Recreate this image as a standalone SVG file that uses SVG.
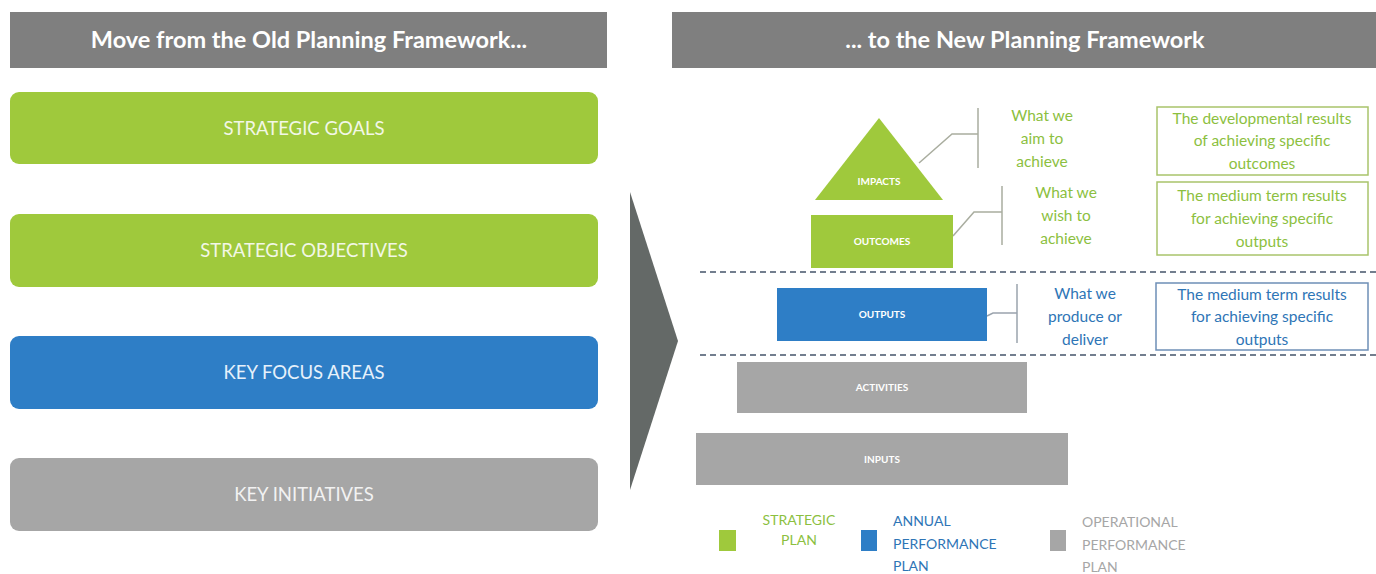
<svg xmlns="http://www.w3.org/2000/svg" width="1376" height="574" viewBox="0 0 1376 574">
<style>
.hdr{fill:#7f7f7f}
.hdrt{font-family:Lato,"Liberation Sans",sans-serif;font-weight:bold;font-size:23.5px;fill:#ffffff;text-anchor:middle}
.lbl{font-family:Lato,"Liberation Sans",sans-serif;font-size:18.5px;fill:#f2f7e6;text-anchor:middle}
.sm{font-family:Lato,"Liberation Sans",sans-serif;font-weight:bold;font-size:10px;fill:#ffffff;text-anchor:middle}
.g{fill:#9fc93c}
.b{fill:#2e7ec6}
.gr{fill:#a6a6a6}
.gt{font-family:Lato,"Liberation Sans",sans-serif;font-size:15.5px;fill:#8cbf3f;text-anchor:middle}
.bt{font-family:Lato,"Liberation Sans",sans-serif;font-size:15.5px;fill:#2e75b6;text-anchor:middle}
.lg{font-family:Lato,"Liberation Sans",sans-serif;font-size:14px}
.conn{fill:none;stroke:#a9ad9f;stroke-width:1.5}
.dash{stroke:#44546a;stroke-width:1.5;stroke-dasharray:6 4}
</style>
<rect width="1376" height="574" fill="#ffffff"/>
<g id="header-left"><rect class="hdr" x="10" y="12" width="597" height="56"/><text class="hdrt" x="309" y="48">Move from the Old Planning Framework...</text></g>
<g id="header-right"><rect class="hdr" x="672" y="12" width="704" height="56"/><text class="hdrt" x="1025" y="48">... to the New Planning Framework</text></g>
<g id="strategic-goals"><rect class="g" x="10" y="92" width="588" height="72" rx="9"/><text class="lbl" x="304" y="135">STRATEGIC GOALS</text></g>
<g id="strategic-objectives"><rect class="g" x="10" y="214" width="588" height="73" rx="9"/><text class="lbl" x="304" y="257">STRATEGIC OBJECTIVES</text></g>
<g id="key-focus-areas"><rect class="b" x="10" y="336" width="588" height="73" rx="9"/><text class="lbl" x="304" y="379" style="fill:#e6f1fb">KEY FOCUS AREAS</text></g>
<g id="key-initiatives"><rect class="gr" x="10" y="458" width="588" height="73" rx="9"/><text class="lbl" x="304" y="501" style="fill:#f2f2f2">KEY INITIATIVES</text></g>
<g id="arrow"><polygon points="630,192 678,341 630,490" fill="#646967"/></g>
<g id="connectors">
<polyline class="conn" points="919,163 952,134 978,134"/>
<line class="conn" x1="978" y1="108" x2="978" y2="168"/>
<polyline class="conn" points="953,236 974,212 1002,212"/>
<line class="conn" x1="1002" y1="186" x2="1002" y2="245"/>
<polyline class="conn" points="987,316 993,313 1017,313" style="stroke:#9aa3ad"/>
<line class="conn" x1="1017" y1="284" x2="1017" y2="343" style="stroke:#9aa3ad"/>
<line class="dash" x1="700" y1="272" x2="1376" y2="272"/>
<line class="dash" x1="700" y1="355" x2="1376" y2="355"/>
</g>
<g id="impacts"><polygon class="g" points="879,118 815,200 943,200"/><text class="sm" x="879" y="185">IMPACTS</text></g>
<g id="outcomes"><rect class="g" x="811" y="215" width="142" height="53"/><text class="sm" x="882" y="245">OUTCOMES</text></g>
<g id="outputs"><rect class="b" x="777" y="288" width="210" height="53"/><text class="sm" x="882" y="318">OUTPUTS</text></g>
<g id="activities"><rect class="gr" x="737" y="362" width="290" height="51"/><text class="sm" x="882" y="391">ACTIVITIES</text></g>
<g id="inputs"><rect class="gr" x="696" y="433" width="372" height="52"/><text class="sm" x="882" y="463">INPUTS</text></g>
<g id="aim-text"><text class="gt" x="1042" y="121">What we</text><text class="gt" x="1042" y="144">aim to</text><text class="gt" x="1042" y="167">achieve</text></g>
<g id="wish-text"><text class="gt" x="1066" y="198">What we</text><text class="gt" x="1066" y="221">wish to</text><text class="gt" x="1066" y="244">achieve</text></g>
<g id="produce-text"><text class="bt" x="1085" y="299">What we</text><text class="bt" x="1085" y="322">produce or</text><text class="bt" x="1085" y="345">deliver</text></g>
<g id="box-impacts"><rect x="1157" y="107" width="211" height="68" fill="none" stroke="#a9c46b" stroke-width="1.5"/><text class="gt" x="1262" y="124">The developmental results</text><text class="gt" x="1262" y="146">of achieving specific</text><text class="gt" x="1262" y="169">outcomes</text></g>
<g id="box-outcomes"><rect x="1157" y="182" width="211" height="73" fill="none" stroke="#a9c46b" stroke-width="1.5"/><text class="gt" x="1262" y="201">The medium term results</text><text class="gt" x="1262" y="224">for achieving specific</text><text class="gt" x="1262" y="247">outputs</text></g>
<g id="box-outputs"><rect x="1156" y="283" width="212" height="67" fill="none" stroke="#6e8fb6" stroke-width="1.5"/><text class="bt" x="1262" y="300">The medium term results</text><text class="bt" x="1262" y="322">for achieving specific</text><text class="bt" x="1262" y="345">outputs</text></g>
<g id="legend-strategic"><rect class="g" x="719" y="530" width="17" height="21"/><text class="lg" x="799" y="525" fill="#8cbf3f" text-anchor="middle">STRATEGIC</text><text class="lg" x="799" y="545" fill="#8cbf3f" text-anchor="middle">PLAN</text></g>
<g id="legend-annual"><rect class="b" x="861" y="530" width="16" height="21"/><text class="lg" x="893" y="526" fill="#2e75b6">ANNUAL</text><text class="lg" x="893" y="549" fill="#2e75b6">PERFORMANCE</text><text class="lg" x="893" y="571" fill="#2e75b6">PLAN</text></g>
<g id="legend-operational"><rect class="gr" x="1050" y="530" width="16" height="21"/><text class="lg" x="1082" y="527" fill="#a6a6a6">OPERATIONAL</text><text class="lg" x="1082" y="550" fill="#a6a6a6">PERFORMANCE</text><text class="lg" x="1082" y="572" fill="#a6a6a6">PLAN</text></g>
</svg>
